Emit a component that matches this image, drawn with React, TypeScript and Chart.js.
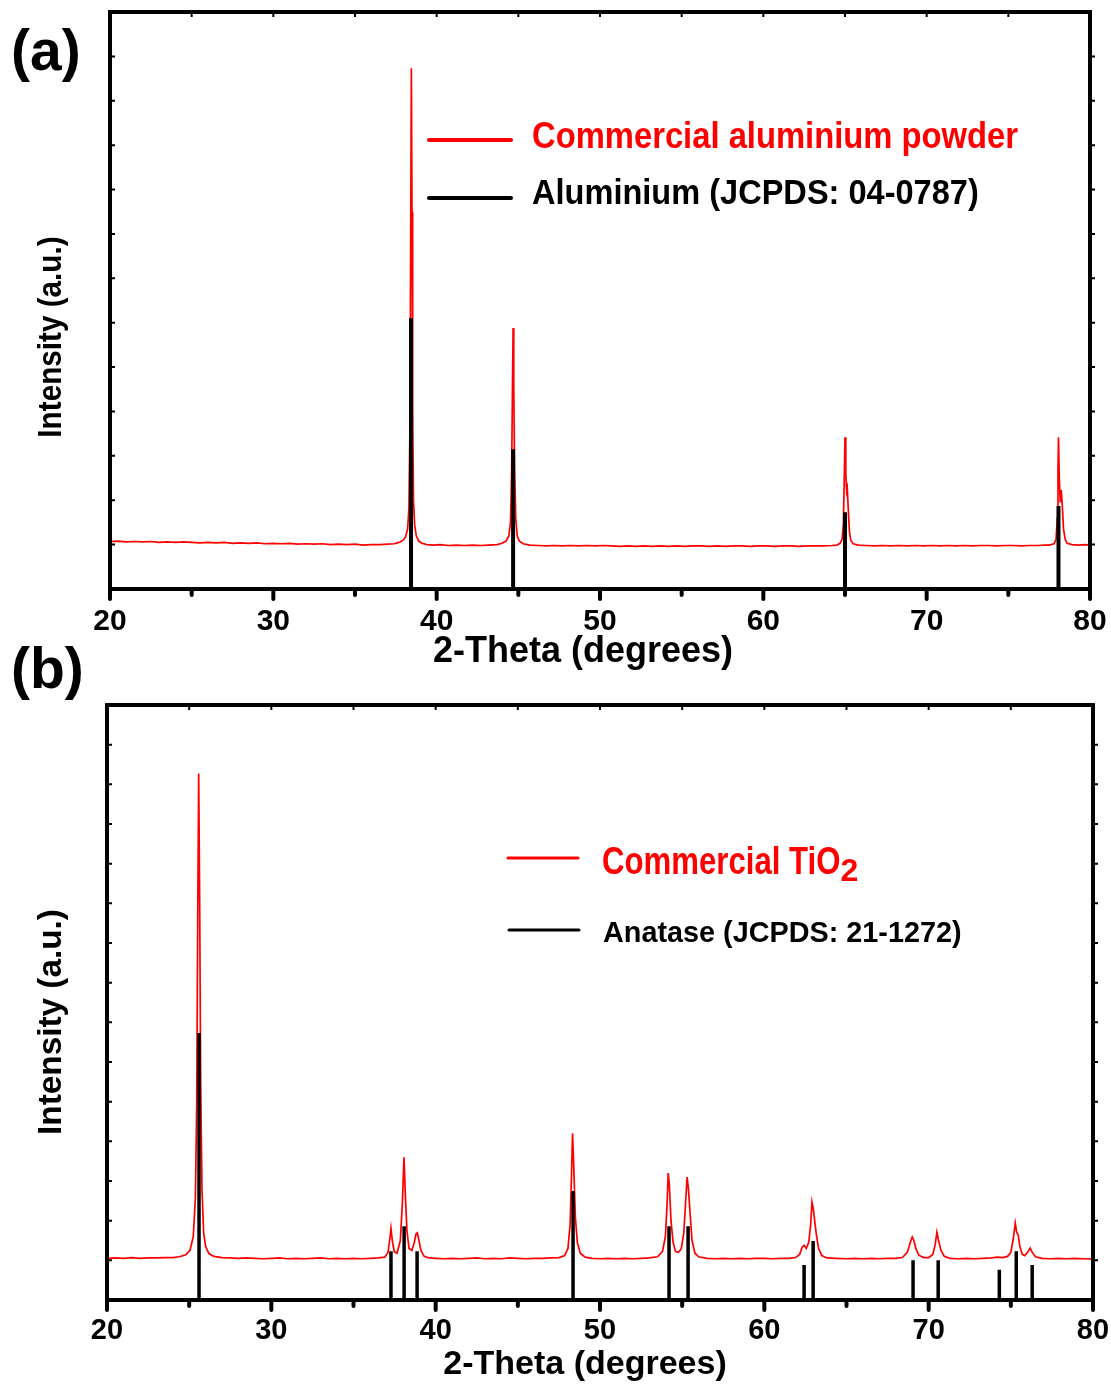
import React, { useEffect, useRef } from "react";
import { Chart, registerables } from "chart.js";

Chart.register(...registerables);

const FONT = '"Liberation Sans", Arial, Helvetica, sans-serif';

// ---------- shared axis ticks ----------
const X_TICKS = [20, 30, 40, 50, 60, 70, 80];
const X_MINOR_TICKS = [25, 35, 45, 55, 65, 75];
const A_Y_TICKS = [1, 2, 3, 4, 5, 6, 7, 8, 9, 10, 11, 12];
const B_Y_TICKS = [1, 2, 3, 4, 5, 6, 7, 8, 9, 10, 11, 12, 13, 14];

// ---------- panel (a): commercial aluminium powder ----------
const A_TWO_THETA = [
  20.0, 20.5, 21.0, 21.5, 22.0, 22.5, 23.0, 23.5, 24.0, 24.5, 25.0, 25.5, 26.0, 26.5, 27.0, 27.5,
  28.0, 28.5, 29.0, 29.5, 30.0, 30.5, 31.0, 31.5, 32.0, 32.5, 33.0, 33.5, 34.0, 34.5, 35.0, 35.5,
  36.0, 36.5, 37.0, 37.4, 37.7, 37.95, 38.1, 38.22, 38.3, 38.36, 38.41, 38.45, 38.49, 38.53, 38.58,
  38.65, 38.75, 38.9, 39.1, 39.4, 39.8, 40.2, 40.7, 41.2, 41.7, 42.2, 42.7, 43.2, 43.7, 44.0, 44.25,
  44.42, 44.52, 44.59, 44.64, 44.68, 44.72, 44.77, 44.84, 44.93, 45.05, 45.3, 45.7, 46.2, 46.7, 47.2,
  47.7, 48.2, 48.7, 49.2, 49.7, 50.2, 50.7, 51.2, 51.7, 52.2, 52.7, 53.2, 53.7, 54.2, 54.7, 55.2,
  55.7, 56.2, 56.7, 57.2, 57.7, 58.2, 58.7, 59.2, 59.7, 60.2, 60.7, 61.2, 61.7, 62.2, 62.7, 63.2,
  63.7, 64.2, 64.5, 64.7, 64.82, 64.9, 64.95, 65.0, 65.05, 65.1, 65.14, 65.2, 65.27, 65.35, 65.5,
  65.8, 66.3, 66.8, 67.3, 67.8, 68.3, 68.8, 69.3, 69.8, 70.3, 70.8, 71.3, 71.8, 72.3, 72.8, 73.3,
  73.8, 74.3, 74.8, 75.3, 75.8, 76.3, 76.8, 77.2, 77.5, 77.8, 77.92, 78.0, 78.04, 78.07, 78.12,
  78.18, 78.24, 78.3, 78.38, 78.48, 78.6, 78.9, 79.3, 79.7, 80.0,
];
const A_INTENSITY = [
  1.07, 1.08, 1.06, 1.07, 1.06, 1.07, 1.05, 1.06, 1.05, 1.06, 1.05, 1.04, 1.05, 1.04, 1.05, 1.03,
  1.04, 1.03, 1.04, 1.02, 1.03, 1.02, 1.03, 1.01, 1.02, 1.01, 1.02, 1.0, 1.01, 1.0, 1.01, 0.99,
  1.0, 1.0, 1.01, 1.02, 1.05, 1.1, 1.18, 1.35, 1.8, 3.5, 8.0, 11.73, 8.5, 4.0, 2.0,
  1.45, 1.2, 1.08, 1.03, 1.0, 0.99, 1.0, 0.98, 0.99, 0.98, 0.99, 0.98, 0.99, 1.0, 1.03, 1.08,
  1.2, 1.5, 2.6, 4.5, 5.88, 4.6, 2.7, 1.6, 1.2, 1.08, 1.02, 0.99, 0.98, 0.97, 0.98,
  0.97, 0.98, 0.97, 0.98, 0.97, 0.98, 0.97, 0.96, 0.97, 0.96, 0.97, 0.96, 0.97, 0.96, 0.97, 0.96,
  0.97, 0.97, 0.96, 0.97, 0.96, 0.97, 0.97, 0.96, 0.97, 0.97, 0.96, 0.97, 0.97, 0.96, 0.97, 0.97,
  0.97, 0.98, 0.99, 1.03, 1.12, 1.45, 2.4, 3.42, 2.6, 2.2, 2.27, 1.8, 1.3, 1.1, 1.02,
  0.99, 0.98, 0.97, 0.98, 0.97, 0.98, 0.97, 0.98, 0.97, 0.98, 0.97, 0.98, 0.97, 0.98, 0.97, 0.98,
  0.98, 0.97, 0.98, 0.98, 0.97, 0.98, 0.98, 0.99, 0.99, 1.02, 1.12, 1.6, 2.7, 3.42, 2.5,
  1.95, 2.23, 1.9, 1.35, 1.12, 1.03, 1.0, 0.99, 1.0, 0.99,
];
const A_REF_POS = [38.43, 44.68, 65.0, 78.07];
const A_REF_INT = [6.1, 3.15, 1.73, 1.87];
const A_LEGEND = ["Commercial aluminium powder", "Aluminium (JCPDS: 04-0787)"];

// ---------- panel (b): commercial TiO2 ----------
const B_TWO_THETA = [
  20.0, 20.5, 21.0, 21.5, 22.0, 22.5, 23.0, 23.5, 24.0, 24.4, 24.8, 25.05, 25.25, 25.38, 25.46,
  25.52, 25.58, 25.64, 25.7, 25.78, 25.88, 26.0, 26.2, 26.5, 27.0, 27.5, 28.0, 28.5, 29.0, 29.5,
  30.0, 30.5, 31.0, 31.5, 32.0, 32.5, 33.0, 33.5, 34.0, 34.5, 35.0, 35.5, 36.0, 36.5, 36.9, 37.1,
  37.2, 37.28, 37.36, 37.48, 37.65, 37.85, 37.98, 38.07, 38.15, 38.25, 38.38, 38.55, 38.7, 38.8,
  38.88, 38.96, 39.1, 39.3, 39.6, 40.0, 40.5, 41.0, 41.5, 42.0, 42.5, 43.0, 43.5, 44.0, 44.5, 45.0,
  45.5, 46.0, 46.5, 47.0, 47.5, 47.85, 48.05, 48.18, 48.27, 48.33, 48.4, 48.5, 48.62, 48.8, 49.1,
  49.5, 50.0, 50.5, 51.0, 51.5, 52.0, 52.5, 53.0, 53.5, 53.8, 53.98, 54.08, 54.15, 54.22, 54.32,
  54.45, 54.6, 54.78, 54.95, 55.1, 55.2, 55.3, 55.38, 55.48, 55.6, 55.78, 56.0, 56.5, 57.0, 57.5,
  58.0, 58.5, 59.0, 59.5, 60.0, 60.5, 61.0, 61.5, 61.9, 62.15, 62.3, 62.42, 62.55, 62.7, 62.82,
  62.9, 62.98, 63.05, 63.15, 63.3, 63.5, 63.8, 64.3, 65.0, 65.5, 66.0, 66.5, 67.0, 67.5, 68.0,
  68.4, 68.7, 68.88, 69.0, 69.1, 69.22, 69.4, 69.7, 70.0, 70.25, 70.4, 70.5, 70.6, 70.75, 70.95,
  71.3, 71.8, 72.3, 72.8, 73.3, 73.8, 74.2, 74.5, 74.8, 75.0, 75.15, 75.27, 75.36, 75.45, 75.55,
  75.7, 75.85, 76.05, 76.18, 76.3, 76.5, 76.9, 77.4, 77.9, 78.4, 78.9, 79.4, 80.0,
];
const B_INTENSITY = [
  1.05, 1.06, 1.05, 1.07, 1.05, 1.06, 1.06, 1.07, 1.07, 1.09, 1.14, 1.25, 1.6, 2.6, 5.0,
  9.5, 13.27, 10.0, 5.5, 2.8, 1.7, 1.35, 1.17, 1.1, 1.07, 1.06, 1.05, 1.06, 1.05, 1.04,
  1.05, 1.06, 1.04, 1.05, 1.04, 1.05, 1.06, 1.04, 1.05, 1.04, 1.05, 1.04, 1.05, 1.06, 1.08, 1.2,
  1.5, 1.81, 1.5, 1.22, 1.18, 1.5, 2.5, 3.6, 2.7, 1.75, 1.3, 1.25, 1.45, 1.66,
  1.69, 1.55, 1.25, 1.1, 1.06, 1.05, 1.04, 1.05, 1.04, 1.05, 1.06, 1.04, 1.05, 1.04, 1.06, 1.05,
  1.04, 1.05, 1.05, 1.06, 1.07, 1.12, 1.3, 1.9, 3.2, 4.2, 3.4, 2.1, 1.45, 1.18, 1.08,
  1.05, 1.04, 1.05, 1.04, 1.05, 1.04, 1.05, 1.06, 1.09, 1.22, 1.6, 2.4, 3.2, 2.9, 2.0,
  1.45, 1.22, 1.2, 1.3, 1.7, 2.4, 3.1, 2.8, 2.2, 1.5, 1.18, 1.09, 1.05, 1.04, 1.05,
  1.04, 1.05, 1.04, 1.05, 1.05, 1.04, 1.05, 1.05, 1.07, 1.15, 1.33, 1.38, 1.3, 1.45, 1.9,
  2.47, 2.3, 2.05, 1.7, 1.3, 1.12, 1.06, 1.05, 1.04, 1.05, 1.04, 1.05, 1.04, 1.05, 1.05,
  1.07, 1.2, 1.45, 1.59, 1.5, 1.3, 1.13, 1.07, 1.07, 1.15, 1.4, 1.71, 1.5, 1.25, 1.1,
  1.05, 1.04, 1.05, 1.04, 1.05, 1.06, 1.08, 1.07, 1.1, 1.2, 1.55, 1.94, 1.7, 1.64, 1.35,
  1.15, 1.12, 1.22, 1.31, 1.2, 1.09, 1.05, 1.04, 1.05, 1.04, 1.05, 1.04, 1.03,
];
const B_REF_POS = [25.6, 37.28, 38.08, 38.87, 48.36, 54.2, 55.36, 62.42, 62.97, 69.05, 70.58, 74.3, 75.33, 76.3];
const B_REF_INT = [6.73, 1.23, 1.86, 1.23, 2.75, 1.86, 1.86, 0.88, 1.49, 1.0, 1.0, 0.76, 1.23, 0.88];
const B_LEGEND = ["Commercial TiO", "Anatase (JCPDS: 21-1272)"];

const AXIS_TITLE_X = "2-Theta (degrees)";
const AXIS_TITLE_Y = "Intensity (a.u.)";

type TextItem = {
  text: string;
  x: number;
  y: number;
  size: number;
  color?: string;
  scaleX?: number;
  align?: CanvasTextAlign;
  rotate?: boolean;
  sub?: { text: string; size: number; dy: number; scaleX?: number };
};

function drawText(ctx: CanvasRenderingContext2D, t: TextItem) {
  const sx = t.scaleX ?? 1;
  ctx.save();
  ctx.fillStyle = t.color || "#000";
  ctx.font = `bold ${t.size}px ${FONT}`;
  ctx.textBaseline = "alphabetic";
  ctx.textAlign = t.align || "left";
  ctx.translate(t.x, t.y);
  if (t.rotate) ctx.rotate(-Math.PI / 2);
  ctx.scale(sx, 1);
  ctx.fillText(t.text, 0, 0);
  const w = ctx.measureText(t.text).width * sx;
  ctx.restore();
  if (t.sub) {
    ctx.save();
    ctx.fillStyle = t.color || "#000";
    ctx.font = `bold ${t.sub.size}px ${FONT}`;
    ctx.textBaseline = "alphabetic";
    ctx.textAlign = "left";
    ctx.translate(t.x + w, t.y + t.sub.dy);
    ctx.scale(t.sub.scaleX ?? 1, 1);
    ctx.fillText(t.sub.text, 0, 0);
    ctx.restore();
  }
}

const decorPlugin = {
  id: "decor",
  afterDatasetsDraw(chart: any, _args: any, opts: any) {
    const { ctx, chartArea: ca, scales } = chart;
    const xs = scales.x;
    const ys = scales.y;
    ctx.save();
    ctx.strokeStyle = "#000";
    // bottom ticks (outward), major and minor
    ctx.lineCap = "round";
    ctx.lineWidth = 4;
    for (const v of X_TICKS) {
      const px = xs.getPixelForValue(v);
      ctx.beginPath();
      ctx.moveTo(px, ca.bottom);
      ctx.lineTo(px, ca.bottom + 10);
      ctx.stroke();
    }
    for (const v of X_MINOR_TICKS) {
      const px = xs.getPixelForValue(v);
      ctx.beginPath();
      ctx.moveTo(px, ca.bottom);
      ctx.lineTo(px, ca.bottom + 6);
      ctx.stroke();
    }
    // top ticks (inward, small)
    ctx.lineCap = "butt";
    ctx.lineWidth = 2;
    for (const v of [...X_TICKS, ...X_MINOR_TICKS]) {
      const px = xs.getPixelForValue(v);
      ctx.beginPath();
      ctx.moveTo(px, ca.top);
      ctx.lineTo(px, ca.top + 5);
      ctx.stroke();
    }
    // left (inward) and right (outward) ticks
    for (const v of opts.yTicks) {
      const py = ys.getPixelForValue(v);
      ctx.beginPath();
      ctx.moveTo(ca.left, py);
      ctx.lineTo(ca.left + 5, py);
      ctx.moveTo(ca.right, py);
      ctx.lineTo(ca.right + 5, py);
      ctx.stroke();
    }
    // frame
    ctx.lineWidth = 4;
    ctx.lineJoin = "miter";
    ctx.strokeRect(ca.left, ca.top, ca.right - ca.left, ca.bottom - ca.top);
    // legend symbols
    for (const l of opts.lines) {
      ctx.strokeStyle = l.color;
      ctx.lineWidth = l.width;
      ctx.lineCap = "round";
      ctx.beginPath();
      ctx.moveTo(l.x1, l.y);
      ctx.lineTo(l.x2, l.y);
      ctx.stroke();
    }
    ctx.restore();
    for (const t of opts.texts) drawText(ctx, t);
  },
};

function stickPoints(xs: number[], hs: number[]) {
  const pts: { x: number; y: number | null }[] = [];
  xs.forEach((x, i) => {
    pts.push({ x, y: 0 }, { x, y: hs[i] }, { x, y: null });
  });
  return pts;
}

function curvePoints(xs: number[], ys: number[]) {
  return xs.map((x, i) => ({ x, y: ys[i] }));
}

type Spec = {
  tx: number[];
  ty: number[];
  sx: number[];
  sy: number[];
  yMax: number;
  yTicks: number[];
  padding: { left: number; top: number; right: number; bottom: number };
  yWidth: number;
  xHeight: number;
  tickSize: number;
  tickPad: number;
  stickWidth: number;
  texts: TextItem[];
  lines: { x1: number; x2: number; y: number; color: string; width: number }[];
};

function buildConfig(s: Spec): any {
  return {
    type: "scatter",
    data: {
      datasets: [
        {
          label: "reference",
          data: stickPoints(s.sx, s.sy),
          showLine: true,
          spanGaps: false,
          borderColor: "#000000",
          borderWidth: s.stickWidth,
          borderCapStyle: "butt",
          pointRadius: 0,
          order: 0,
        },
        {
          label: "sample",
          data: curvePoints(s.tx, s.ty),
          showLine: true,
          borderColor: "#ff0000",
          borderWidth: 1.7,
          pointRadius: 0,
          tension: 0,
          order: 1,
        },
      ],
    },
    options: {
      responsive: false,
      animation: false,
      devicePixelRatio: 1,
      layout: { padding: s.padding },
      plugins: {
        legend: { display: false },
        tooltip: { enabled: false },
        decor: { yTicks: s.yTicks, texts: s.texts, lines: s.lines },
      },
      scales: {
        x: {
          type: "linear",
          position: "bottom",
          min: 20,
          max: 80,
          grid: { display: false },
          border: { display: false },
          ticks: {
            stepSize: 10,
            color: "#000",
            padding: s.tickPad,
            maxRotation: 0,
            autoSkip: false,
            font: { family: FONT, size: s.tickSize, weight: "bold" },
          },
          afterBuildTicks: (scale: any) => {
            scale.ticks = X_TICKS.map((v) => ({ value: v }));
          },
          afterFit: (scale: any) => {
            scale.height = s.xHeight;
            scale.paddingLeft = 0;
            scale.paddingRight = 0;
          },
        },
        y: {
          type: "linear",
          position: "left",
          min: 0,
          max: s.yMax,
          grid: { display: false },
          border: { display: false },
          ticks: { display: false },
          afterFit: (scale: any) => {
            scale.width = s.yWidth;
            scale.paddingTop = 0;
            scale.paddingBottom = 0;
          },
        },
      },
    },
    plugins: [decorPlugin],
  };
}

const RED = "#ff0000";

const SPEC_A: Spec = {
  tx: A_TWO_THETA,
  ty: A_INTENSITY,
  sx: A_REF_POS,
  sy: A_REF_INT,
  yMax: 13,
  yTicks: A_Y_TICKS,
  padding: { left: 0, top: 12, right: 21, bottom: 0 },
  yWidth: 110,
  xHeight: 91,
  tickSize: 30,
  tickPad: 7,
  stickWidth: 4,
  texts: [
    { text: "(a)", x: 11, y: 70, size: 57 },
    { text: AXIS_TITLE_Y, x: 61, y: 337, size: 33, rotate: true, scaleX: 0.9, align: "center" },
    { text: AXIS_TITLE_X, x: 583, y: 662, size: 36, align: "center" },
    { text: A_LEGEND[0], x: 532, y: 148, size: 36, scaleX: 0.91, color: RED },
    { text: A_LEGEND[1], x: 532, y: 204, size: 35, scaleX: 0.93 },
  ],
  lines: [
    { x1: 429, x2: 511, y: 140, color: RED, width: 4 },
    { x1: 429, x2: 511, y: 198, color: "#000", width: 4 },
  ],
};

const SPEC_B: Spec = {
  tx: B_TWO_THETA,
  ty: B_INTENSITY,
  sx: B_REF_POS,
  sy: B_REF_INT,
  yMax: 15,
  yTicks: B_Y_TICKS,
  padding: { left: 0, top: 75, right: 18, bottom: 0 },
  yWidth: 107,
  xHeight: 87,
  tickSize: 29,
  tickPad: 6,
  stickWidth: 3.5,
  texts: [
    { text: "(b)", x: 11, y: 58, size: 57 },
    { text: AXIS_TITLE_Y, x: 61, y: 392, size: 34, rotate: true, scaleX: 0.98, align: "center" },
    { text: AXIS_TITLE_X, x: 585, y: 744, size: 34, align: "center" },
    { text: B_LEGEND[0], x: 602, y: 244, size: 38, scaleX: 0.82, color: RED, sub: { text: "2", size: 32, dy: 7 } },
    { text: B_LEGEND[1], x: 603, y: 312, size: 30, scaleX: 0.96 },
  ],
  lines: [
    { x1: 508, x2: 578, y: 228, color: RED, width: 3 },
    { x1: 509, x2: 579, y: 300, color: "#000", width: 3 },
  ],
};

export default function App() {
  const refA = useRef<HTMLCanvasElement>(null);
  const refB = useRef<HTMLCanvasElement>(null);

  useEffect(() => {
    const a = new Chart(refA.current as HTMLCanvasElement, buildConfig(SPEC_A));
    const b = new Chart(refB.current as HTMLCanvasElement, buildConfig(SPEC_B));
    return () => {
      a.destroy();
      b.destroy();
    };
  }, []);

  return (
    <div
      style={{
        position: "absolute",
        left: 0,
        top: 0,
        width: 1111,
        height: 1387,
        background: "#ffffff",
        overflow: "hidden",
      }}
    >
      <canvas
        ref={refA}
        width={1111}
        height={680}
        style={{ position: "absolute", left: 0, top: 0, width: 1111, height: 680 }}
      />
      <canvas
        ref={refB}
        width={1111}
        height={757}
        style={{ position: "absolute", left: 0, top: 630, width: 1111, height: 757 }}
      />
    </div>
  );
}
